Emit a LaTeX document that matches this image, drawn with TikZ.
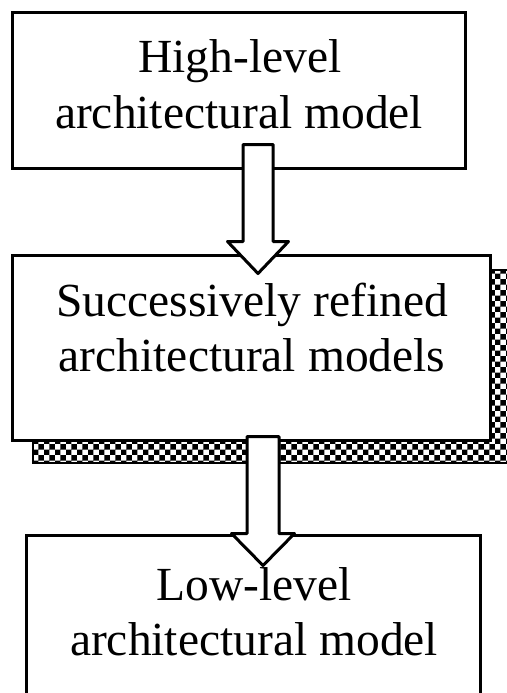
\documentclass[tikz,border=0pt]{standalone}
\usepackage{fontspec}
\setmainfont{Liberation Serif}
\usetikzlibrary{patterns,calc}
\newcommand\blkarrow[5]{%
  \draw[blockarrow] let \p1=(#1), \p2=(#2) in
    (\x1-#3pt,\y1) -- (\x1+#3pt,\y1) -- (\x1+#3pt,\y2+#5pt) -- (\x1+#4pt,\y2+#5pt)
    -- (\x1,\y2) -- (\x1-#4pt,\y2+#5pt) -- (\x1-#3pt,\y2+#5pt) -- cycle;}
\begin{document}
\begin{tikzpicture}[x=1pt,y=-1pt,
  box/.style={draw, line width=3pt, fill=white, inner sep=0pt},
  shadowbox/.style={draw, line width=1.5pt, pattern=checkerboard, inner sep=0pt},
  lbl/.style={anchor=base, inner sep=0pt, font=\fontsize{47.5}{55}\selectfont},
  blockarrow/.style={draw, line width=3pt, fill=white, line join=round}]
\useasboundingbox (0,0) rectangle (506,693);
% shadow of the middle box
\node[shadowbox, minimum width=479pt, minimum height=193pt] (shadow) at (272.5,366.5) {};
% boxes
\node[box, minimum width=478pt, minimum height=185pt] (refined) at (251,347.5) {};
\node[box, minimum width=453pt, minimum height=155pt] (high) at (238.5,90.5) {};
\node[box, minimum width=454pt, minimum height=225pt] (low) at (253,647.5) {};
% arrow end points
\coordinate (a1s) at ($(high.south)+(19.5,-25)$);
\coordinate (a1t) at ($(refined.north)+(7,20)$);
\coordinate (a2s) at ($(refined.south)+(12,-5)$);
\coordinate (a2t) at ($(low.north)+(10,32)$);
\blkarrow{a1s}{a1t}{15}{30.5}{32}
\blkarrow{a2s}{a2t}{16}{31.5}{32}
% texts
\node[lbl] (t1a) at (240,73) {High-level};
\node[lbl] (t1b) at (239,128) {architectural model};
\node[lbl] (t2a) at (252,316) {Successively refined};
\node[lbl] (t2b) at (252,371) {architectural models};
\node[lbl] (t3a) at (254,600) {Low-level};
\node[lbl] (t3b) at (254,655) {architectural model};
\end{tikzpicture}
\end{document}
